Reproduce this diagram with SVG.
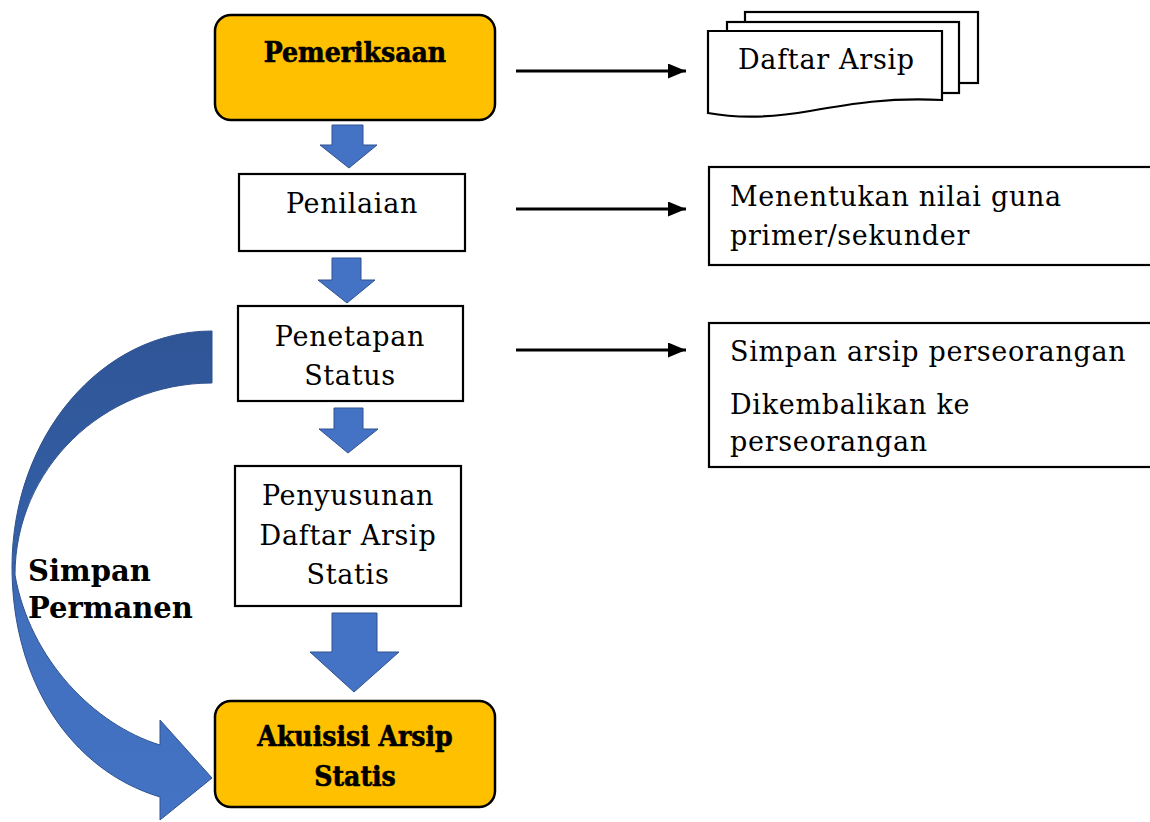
<svg xmlns="http://www.w3.org/2000/svg" width="1150" height="822" viewBox="0 0 1150 822">
  <defs>
    <style>
      .box { fill: #ffffff; stroke: #000000; stroke-width: 2.2; }
      .gold { fill: #FFC000; stroke: #000000; stroke-width: 2.5; }
      .t { font-family: "DejaVu Serif", "Liberation Serif", serif; font-size: 27px; fill: #000; letter-spacing: 0.7px; }
      .tc { text-anchor: middle; }
      .tb { font-family: "DejaVu Serif", "Liberation Serif", serif; font-weight: bold; fill: #000; }
      .tbc { font-family: "DejaVu Serif Condensed", "DejaVu Serif", "Liberation Serif", serif; font-weight: bold; fill: #000; stroke: #000; stroke-width: 0.6px; }
      .blk { fill: #4472C4; stroke: #2F528F; stroke-width: 1; }
      .conn { stroke: #000; stroke-width: 3; fill: none; }
    </style>
    <marker id="ah" markerWidth="6" markerHeight="5" viewBox="0 0 12 10" refX="12" refY="5" orient="auto" markerUnits="strokeWidth">
      <path d="M0,0 L12,5 L0,10 Z" fill="#000"/>
    </marker>
    <linearGradient id="cg" x1="0" y1="331" x2="0" y2="820" gradientUnits="userSpaceOnUse">
      <stop offset="0" stop-color="#2F5597"/>
      <stop offset="0.45" stop-color="#3460A6"/>
      <stop offset="0.6" stop-color="#4170BF"/>
      <stop offset="1" stop-color="#4472C4"/>
    </linearGradient>
  </defs>

  <g id="connectors">
    <line class="conn" x1="516" y1="71" x2="686" y2="71" marker-end="url(#ah)"/>
    <line class="conn" x1="516" y1="209" x2="686" y2="209" marker-end="url(#ah)"/>
    <line class="conn" x1="516" y1="350" x2="686" y2="350" marker-end="url(#ah)"/>
    <path class="blk" d="M332,125 H363 V145 H377 L349,168 L320,145 H332 Z"/>
    <path class="blk" d="M332,258 H361 V280 H375 L347,303 L318,280 H332 Z"/>
    <path class="blk" d="M334,408 H363 V429 H378 L348,453 L319,429 H334 Z"/>
    <path class="blk" d="M332,613 H377 V652 H399 L354,692 L310,652 H332 Z"/>
    <path id="curved" fill="url(#cg)" stroke="#2F528F" stroke-width="1" d="M212,331 C101,331 12,437 12,567 C12,680 70,770 160,797 L160,820 L212,778 L160,720 L160,745 C95,725 30,660 15,575 C15,469 103,383 212,383 Z"/>
  </g>

  <g id="pemeriksaan">
    <rect class="gold" x="215" y="15" width="280" height="105" rx="16"/>
    <text class="tbc tc" x="355" y="62" font-size="28">Pemeriksaan</text>
  </g>

  <g id="penilaian">
    <rect class="box" x="239" y="174" width="226" height="77"/>
    <text class="t tc" x="352" y="213">Penilaian</text>
  </g>

  <g id="penetapan">
    <rect class="box" x="238" y="306" width="225" height="95"/>
    <text class="t tc" x="350" y="346">Penetapan</text>
    <text class="t tc" x="350" y="385">Status</text>
  </g>

  <g id="penyusunan">
    <rect class="box" x="235" y="466" width="226" height="140"/>
    <text class="t tc" x="348" y="505">Penyusunan</text>
    <text class="t tc" x="348" y="545">Daftar Arsip</text>
    <text class="t tc" x="348" y="584">Statis</text>
  </g>

  <g id="akuisisi">
    <rect class="gold" x="215" y="701" width="280" height="106" rx="16"/>
    <text class="tbc tc" x="355" y="746" font-size="28">Akuisisi Arsip</text>
    <text class="tbc tc" x="355" y="786" font-size="28">Statis</text>
  </g>

  <g id="simpan-permanen">
    <text class="tb" x="28" y="581" font-size="29">Simpan</text>
    <text class="tb" x="28" y="618" font-size="29">Permanen</text>
  </g>

  <g id="daftar-arsip">
    <rect class="box" x="745" y="12" width="233" height="71"/>
    <rect class="box" x="727" y="22" width="232" height="71"/>
    <path class="box" d="M708,31 H942 V100 C890,97 850,104 810,111 C765,119 735,118 708,113 Z"/>
    <text class="t" x="738" y="69">Daftar Arsip</text>
  </g>

  <g id="menentukan">
    <rect class="box" x="709" y="167" width="450" height="98"/>
    <text class="t" x="730" y="206">Menentukan nilai guna</text>
    <text class="t" x="730" y="245">primer/sekunder</text>
  </g>

  <g id="simpan-arsip">
    <rect class="box" x="709" y="323" width="450" height="144"/>
    <text class="t" x="730" y="361">Simpan arsip perseorangan</text>
    <text class="t" x="730" y="414">Dikembalikan ke</text>
    <text class="t" x="730" y="451">perseorangan</text>
  </g>
</svg>
